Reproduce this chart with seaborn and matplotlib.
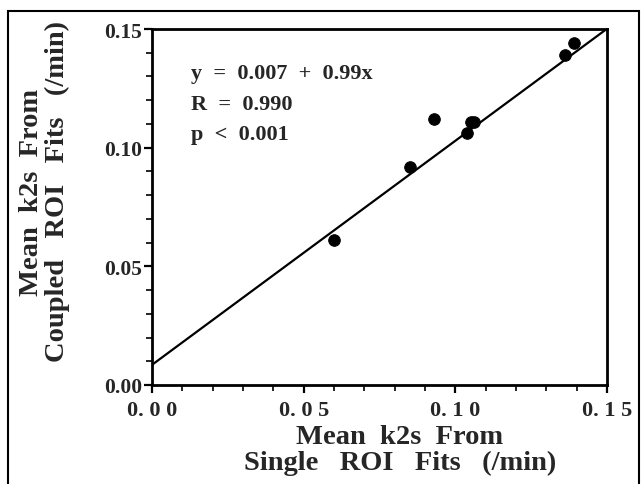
import numpy as np
import pandas as pd
import seaborn as sns
import matplotlib
matplotlib.use("Agg")
from matplotlib import pyplot as plt
from matplotlib.patches import Rectangle
from matplotlib.ticker import MultipleLocator

single_fit = [0.060, 0.085, 0.093, 0.104, 0.105, 0.106, 0.136, 0.139]
coupled_fit = [0.061, 0.092, 0.112, 0.106, 0.111, 0.111, 0.139, 0.144]
line_intercept = 0.0085
line_slope = 0.944
stats_lines = ["y  =  0.007  +  0.99x", "R  =  0.990", "p  <  0.001"]
x_ticks = [0.0, 0.05, 0.10, 0.15]
x_ticklabels = ["0. 0 0", "0. 0 5", "0. 1 0", "0. 1 5"]
y_ticks = [0.0, 0.05, 0.10, 0.15]
y_ticklabels = ["0.00", "0.05", "0.10", "0.15"]

sns.set_style("ticks")
plt.rcParams['font.family'] = ['Liberation Serif', 'DejaVu Serif']
plt.rcParams['font.weight'] = 'bold'

df = pd.DataFrame({"single": single_fit, "coupled": coupled_fit})
fx = np.linspace(0, 0.15, 50)
line = pd.DataFrame({"x": fx, "y": line_intercept + line_slope * fx})

fig = plt.figure(figsize=(6.43, 4.85), dpi=100)
ax = fig.add_axes([152 / 643, 1 - 386 / 485, 455 / 643, 356 / 485])

sns.lineplot(data=line, x="x", y="y", color="black", linewidth=1.6, ax=ax)
sns.scatterplot(data=df, x="single", y="coupled", color="black", s=70,
                edgecolor="black", ax=ax, zorder=3)

ax.set_xlim(0, 0.15)
ax.set_ylim(0, 0.15)
ax.set_xticks(x_ticks)
ax.set_xticklabels(x_ticklabels, fontsize=16, fontweight="bold")
ax.set_yticks(y_ticks)
ax.set_yticklabels(y_ticklabels, fontsize=15.5, fontweight="bold")
ax.xaxis.set_minor_locator(MultipleLocator(0.01))
ax.yaxis.set_minor_locator(MultipleLocator(0.01))
ax.tick_params(which="major", length=6, width=1.6, direction="out", color="black")
ax.tick_params(which="minor", length=4, width=1.2, direction="out", color="black")
ax.tick_params(axis="y", which="both", pad=1)
ax.tick_params(axis="x", which="both", pad=5)
for s in ax.spines.values():
    s.set_linewidth(2)
    s.set_color("black")

ax.set_xlabel("Mean  k2s  From\nSingle   ROI   Fits   (/min)", fontsize=20.5,
              fontweight="bold", linespacing=1.05)
ax.set_ylabel("Mean  k2s  From\nCoupled   ROI   Fits   (/min)", fontsize=20.5,
              fontweight="bold", linespacing=1.05)
ax.xaxis.set_label_coords(0.545, -0.11, transform=ax.transAxes)
ax.xaxis.label.set_va("top")
ax.yaxis.set_label_coords(-0.18, 0.545, transform=ax.transAxes)
ax.yaxis.label.set_va("bottom")

for i, t in enumerate(stats_lines):
    ax.text(0.086, 0.875 - i * 0.085, t, transform=ax.transAxes, fontsize=16,
            fontweight="bold", va="center")

fig.patches.append(Rectangle((8 / 643, -0.01), 631 / 643, 1 - 12 / 485 + 0.01,
                             transform=fig.transFigure, fill=False,
                             edgecolor="black", linewidth=1.5))

fig.savefig("out.png", dpi=100)
